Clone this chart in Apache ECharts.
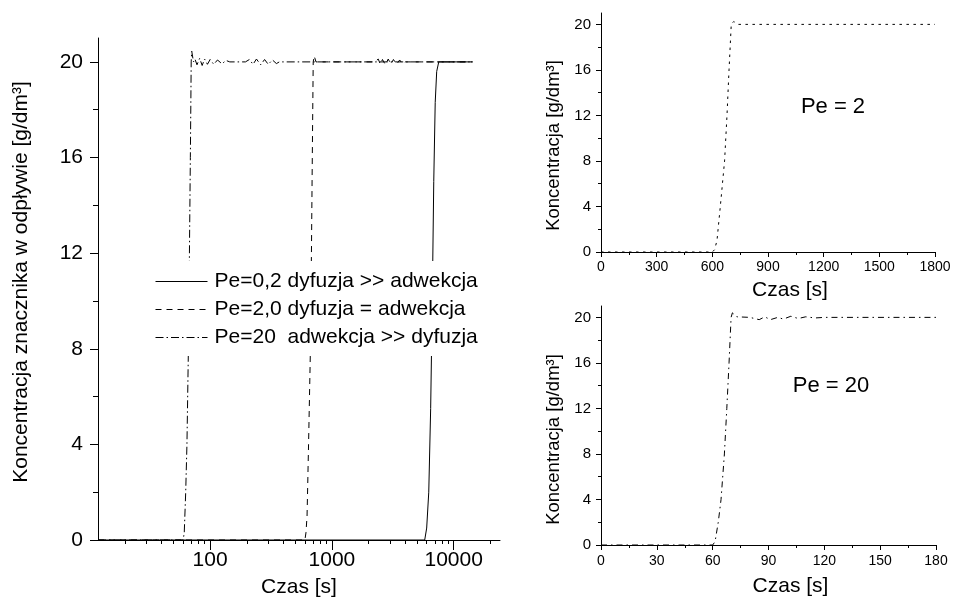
<!DOCTYPE html>
<html>
<head>
<meta charset="utf-8">
<script src="https://cdn.jsdelivr.net/npm/echarts@6/dist/echarts.min.js"></script>
<style>
  html, body { margin: 0; padding: 0; background: #fff; }
  #chart { width: 956px; height: 598px; }
</style>
</head>
<body>
<div id="chart"></div>
<script>
// Tracer breakthrough curves at the reactor outlet for three Peclet numbers.

// Left panel: logarithmic time axis (drawn in log10 space)
const leftTimeMin = 12;
const leftTimeMax = 24000;
const leftMajorTicks = [100, 1000, 10000];
const leftMinorTicks = [20, 30, 40, 50, 60, 70, 80, 90,
  200, 300, 400, 500, 600, 700, 800, 900,
  2000, 3000, 4000, 5000, 6000, 7000, 8000, 9000, 20000];

// Concentration ticks shared by all panels
const concMax = 21;
const concTicks = [0, 4, 8, 12, 16, 20];
const concMinorTicks = [2, 6, 10, 14, 18];

const legendNames = [
  'Pe=0,2 dyfuzja >> adwekcja',
  'Pe=2,0 dyfuzja = adwekcja',
  'Pe=20  adwekcja >> dyfuzja'
];

// [time s, concentration g/dm3]
const pe02Log = [
  [12, 0], [5780, 0], [6000, 0.5], [6240, 2], [6470, 5.5], [6670, 10],
  [6860, 15], [7050, 18.3], [7250, 19.6], [7540, 20], [14300, 20]
];
const pe2Log = [
  [12, 0], [600, 0], [612, 0.3], [625, 1], [643, 4], [666, 8], [679, 12],
  [690, 16], [702, 20], [715, 20.25], [740, 20], [2250, 20], [2400, 20.12],
  [2500, 19.9], [2600, 20.1], [2750, 19.88], [2900, 20.12], [3050, 19.9],
  [3200, 20.1], [3400, 19.9], [3600, 20.08], [3800, 19.92], [4000, 20], [14300, 20]
];
const pe20Log = [
  [12, 0], [60, 0], [61.3, 0.3], [63, 2], [64.5, 4], [66.3, 8], [67.6, 12],
  [68.8, 16], [69.9, 20], [70.6, 20.45], [73, 20], [75, 20.12], [78, 19.88],
  [82, 20.15], [86, 19.85], [90, 20.12], [95, 19.9], [100, 20.1], [107, 19.9],
  [115, 20.08], [125, 19.92], [135, 20.06], [145, 20], [195, 20], [210, 20.1],
  [225, 19.9], [240, 20.12], [260, 19.88], [280, 20.1], [300, 19.9], [325, 20.08],
  [350, 19.93], [370, 20], [14300, 20]
];

// Right panels: linear time axes
const pe2TimeTicks = { max: 1800, interval: 300 };
const pe20TimeTicks = { max: 180, interval: 30 };
const pe2Linear = [
  [0, 0], [600, 0], [612, 0.2], [625, 1], [643, 4], [666, 8], [679, 12],
  [690, 16], [702, 20], [715, 20.25], [740, 20], [1800, 20]
];
const pe20Linear = [
  [0, 0], [60, 0], [61.3, 0.3], [63, 2], [64.5, 4], [66.3, 8], [67.6, 12],
  [68.8, 16], [69.9, 20], [70.6, 20.4], [73, 20.05], [80, 20], [85, 19.8],
  [88, 20.05], [91, 19.8], [95, 20], [98, 19.85], [102, 20.1], [106, 19.9],
  [110, 20.05], [115, 19.95], [120, 20], [180, 20]
];

const FONT = '"Liberation Sans", Arial, sans-serif';
const BLACK = '#000';

function baseAxis(extra) {
  return Object.assign({
    type: 'value',
    axisLine: { show: true, onZero: false, lineStyle: { color: BLACK, width: 1 } },
    axisTick: { show: true, inside: false, lineStyle: { color: BLACK, width: 1 } },
    axisLabel: { color: BLACK, fontFamily: FONT },
    splitLine: { show: false },
    nameTextStyle: { color: BLACK, fontFamily: FONT }
  }, extra);
}

// Axis carrying only extra (minor) ticks on top of a main axis
function minorAxis(gridIndex, position, min, max, values, length) {
  return {
    type: 'value', gridIndex, position, min, max,
    axisLine: { show: false },
    axisTick: { show: true, inside: false, customValues: values, length, lineStyle: { color: BLACK, width: 1 } },
    axisLabel: { show: false },
    splitLine: { show: false }
  };
}

const lg = v => Math.log10(v);
const toLogX = pts => pts.map(p => [lg(p[0]), p[1]]);
const leftMin = lg(leftTimeMin), leftMax = lg(leftTimeMax);
const plain = v => String(v);

const xAxis = [
  baseAxis({
    gridIndex: 0, position: 'bottom', min: leftMin, max: leftMax,
    axisTick: { show: true, customValues: leftMajorTicks.map(lg), length: 10, lineStyle: { color: BLACK } },
    axisLabel: {
      customValues: leftMajorTicks.map(lg), fontSize: 21, margin: 10, color: BLACK, fontFamily: FONT,
      formatter: v => String(Math.round(Math.pow(10, v)))
    },
    name: 'Czas [s]', nameLocation: 'middle', nameGap: 37,
    nameTextStyle: { fontSize: 21, color: BLACK, fontFamily: FONT }
  }),
  minorAxis(0, 'bottom', leftMin, leftMax, leftMinorTicks.map(lg), 4),
  baseAxis({
    gridIndex: 1, position: 'bottom', min: 0, max: pe2TimeTicks.max, interval: pe2TimeTicks.interval,
    axisTick: { show: true, length: 5, lineStyle: { color: BLACK } },
    minorTick: { show: true, splitNumber: 2, length: 3, lineStyle: { color: BLACK } },
    axisLabel: { fontSize: 14, margin: 8, color: BLACK, fontFamily: FONT, formatter: plain },
    name: 'Czas [s]', nameLocation: 'middle', nameGap: 28,
    nameTextStyle: { fontSize: 21, color: BLACK, fontFamily: FONT, padding: [0, 0, 0, 44] }
  }),
  baseAxis({
    gridIndex: 2, position: 'bottom', min: 0, max: pe20TimeTicks.max, interval: pe20TimeTicks.interval,
    axisTick: { show: true, length: 5, lineStyle: { color: BLACK } },
    minorTick: { show: true, splitNumber: 2, length: 3, lineStyle: { color: BLACK } },
    axisLabel: { fontSize: 14, margin: 9, color: BLACK, fontFamily: FONT, formatter: plain },
    name: 'Czas [s]', nameLocation: 'middle', nameGap: 31,
    nameTextStyle: { fontSize: 21, color: BLACK, fontFamily: FONT, padding: [0, 0, 0, 44] }
  })
];

function concAxis(gridIndex, fontSize, margin, tickLen, name, nameSize, nameGap, namePadding) {
  return baseAxis({
    gridIndex, position: 'left', min: 0, max: concMax,
    axisTick: { show: true, customValues: concTicks, length: tickLen, lineStyle: { color: BLACK } },
    axisLabel: { customValues: concTicks, fontSize, margin, color: BLACK, fontFamily: FONT },
    name, nameLocation: 'middle', nameGap,
    nameTextStyle: { fontSize: nameSize, color: BLACK, fontFamily: FONT, padding: namePadding }
  });
}

const yAxis = [
  concAxis(0, 21, 15, 8, 'Koncentracja znacznika w odpływie [g/dm³]', 21, 66, [0, 0, 0, 14]),
  minorAxis(0, 'left', 0, concMax, concMinorTicks, 5),
  concAxis(1, 15, 10, 5, 'Koncentracja [g/dm³]', 18.5, 38, [0, 26, 0, 0]),
  minorAxis(1, 'left', 0, concMax, concMinorTicks, 3),
  concAxis(2, 15, 10, 5, 'Koncentracja [g/dm³]', 18.5, 38, [0, 28, 0, 0]),
  minorAxis(2, 'left', 0, concMax, concMinorTicks, 3)
];

function line(name, data, xi, yi, dash) {
  return {
    name, type: 'line', data, xAxisIndex: xi, yAxisIndex: yi,
    symbol: 'none', smooth: false, clip: true,
    lineStyle: { color: BLACK, width: 1, type: dash },
    itemStyle: { color: BLACK },
    emphasis: { disabled: true }
  };
}

const option = {
  animation: false,
  backgroundColor: '#fff',
  textStyle: { fontFamily: FONT, color: BLACK },
  grid: [
    { left: 98, top: 38, width: 402, height: 502, outerBoundsMode: 'none', containLabel: false },
    { left: 601, top: 13, width: 334, height: 239, outerBoundsMode: 'none', containLabel: false },
    { left: 601, top: 306, width: 335, height: 239, outerBoundsMode: 'none', containLabel: false }
  ],
  xAxis,
  yAxis,
  legend: {
    orient: 'vertical', left: 150, top: 261,
    data: legendNames,
    itemWidth: 52, itemHeight: 14, itemGap: 7,
    backgroundColor: '#fff',
    padding: [10, 18, 8, 5],
    selectedMode: false,
    itemStyle: { color: 'transparent', borderColor: 'transparent', borderWidth: 0, opacity: 0 },
    lineStyle: { width: 1 },
    textStyle: { fontSize: 21, color: BLACK, fontFamily: FONT, padding: [0, 0, 0, 2] }
  },
  graphic: [
    { type: 'text', x: 833, y: 107, style: { text: 'Pe = 2', font: '22px ' + FONT, fill: BLACK, align: 'center', verticalAlign: 'middle' } },
    { type: 'text', x: 831, y: 386, style: { text: 'Pe = 20', font: '22px ' + FONT, fill: BLACK, align: 'center', verticalAlign: 'middle' } }
  ],
  series: [
    line(legendNames[0], toLogX(pe02Log), 0, 0, 'solid'),
    line(legendNames[1], toLogX(pe2Log), 0, 0, [6, 5]),
    line(legendNames[2], toLogX(pe20Log), 0, 0, [8, 3, 1.5, 3]),
    line('Pe = 2', pe2Linear, 2, 2, [2.5, 4.5]),
    line('Pe = 20', pe20Linear, 3, 4, [6, 4, 1.5, 4])
  ]
};

const chart = echarts.init(document.getElementById('chart'), null, { renderer: 'canvas' });
chart.setOption(option);
</script>
</body>
</html>
